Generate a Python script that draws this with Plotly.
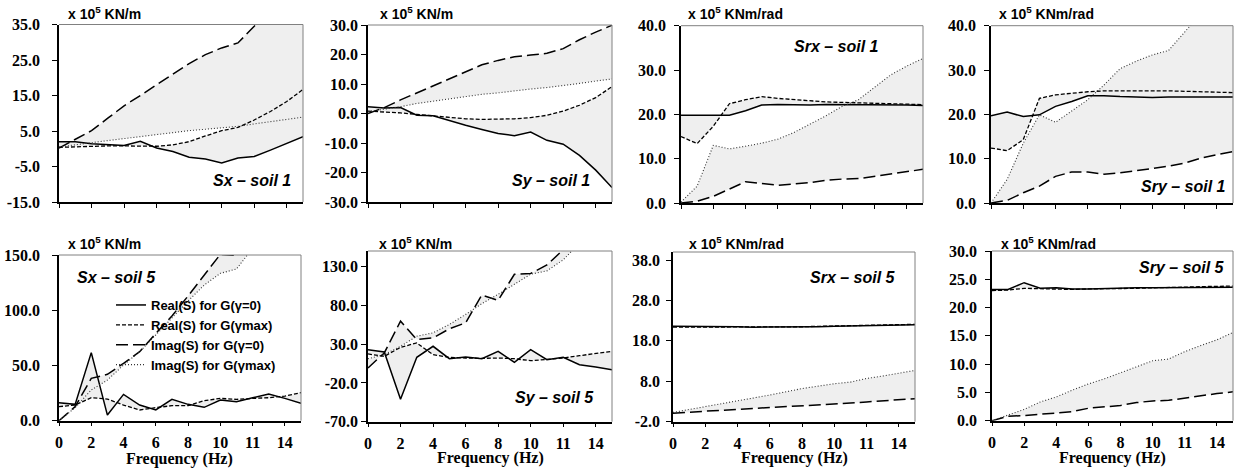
import plotly.graph_objects as go

# ---------------- data ----------------
freq = ["0", "1", "2", "3", "4", "5", "6", "7", "8", "9", "10", "10.5", "11", "12.5", "14", "15"]
tick_freqs = ["0", "2", "4", "6", "8", "10", "11", "14"]

series_names = ["Real(S) for G(\u03b3=0)", "Real(S) for G(\u03b3max)",
                "Imag(S) for G(\u03b3=0)", "Imag(S) for G(\u03b3max)"]

# Sx - soil 1
sx1_re0 = [2.0, 2.0, 1.4, 1.1, 0.9, 2.1, 0.2, -0.8, -2.4, -2.9, -4.0, -2.6, -2.2, -0.4, 1.6, 3.4]
sx1_remax = [0.4, 0.6, 0.7, 0.8, 0.8, 0.7, 0.7, 1.1, 2.0, 3.6, 5.1, 6.0, 8.1, 10.5, 13.3, 16.7]
sx1_im0 = [0.2, 2.6, 5.1, 8.6, 12.1, 15.0, 18.1, 21.0, 24.0, 26.5, 28.4, 29.8, 34.5, 40.0, 45.0, 50.0]
sx1_immax = [0.5, 1.2, 1.7, 2.3, 2.9, 3.5, 4.1, 4.6, 5.1, 5.5, 5.9, 6.3, 7.0, 7.7, 8.3, 8.9]
sx1_yticks = [-15, -5, 5, 15, 25, 35]

# Sy - soil 1
sy1_re0 = [2.3, 1.9, 2.0, -0.6, -0.8, -2.5, -4.0, -5.4, -6.8, -7.5, -6.3, -9.1, -10.4, -14.2, -19.2, -25.1]
sy1_remax = [0.8, 0.6, 0.2, -0.3, -0.8, -1.4, -1.8, -2.0, -2.0, -1.8, -1.4, -0.6, 0.8, 2.8, 5.4, 9.1]
sy1_im0 = [0.0, 2.0, 4.6, 7.0, 9.3, 11.7, 14.2, 16.5, 18.0, 19.2, 19.8, 20.4, 22.0, 25.0, 27.6, 29.9]
sy1_immax = [0.6, 1.4, 2.3, 3.4, 4.2, 4.9, 5.7, 6.5, 7.0, 7.7, 8.3, 8.8, 9.4, 10.2, 11.0, 11.7]
sy1_yticks = [-30, -20, -10, 0, 10, 20, 30]

# Srx - soil 1
srx1_re0 = [19.8, 19.8, 19.8, 19.8, 20.8, 22.1, 22.2, 22.1, 22.1, 22.2, 22.2, 22.2, 22.2, 22.1, 22.1, 22.0]
srx1_remax = [15.0, 13.4, 17.3, 22.4, 23.3, 24.0, 23.6, 23.3, 23.0, 22.8, 22.7, 22.6, 22.5, 22.4, 22.3, 22.2]
srx1_im0 = [0.0, 0.4, 1.5, 3.2, 4.8, 4.4, 4.0, 4.3, 4.6, 5.1, 5.4, 5.5, 6.0, 6.5, 7.1, 7.6]
srx1_immax = [0.2, 3.8, 13.0, 12.2, 12.8, 13.5, 14.4, 15.9, 17.8, 19.7, 21.8, 23.3, 26.1, 28.9, 30.9, 32.6]
srx1_yticks = [0, 10, 20, 30, 40]

# Sry - soil 1
sry1_re0 = [19.7, 20.5, 19.5, 19.9, 21.8, 22.9, 24.2, 24.2, 24.0, 23.9, 23.8, 23.9, 23.9, 23.9, 23.9, 23.9]
sry1_remax = [12.4, 11.8, 14.3, 23.6, 24.4, 24.8, 25.1, 25.3, 25.3, 25.4, 25.4, 25.3, 25.2, 25.1, 25.0, 24.9]
sry1_im0 = [0.0, 0.6, 2.3, 3.8, 6.0, 7.0, 7.0, 6.5, 6.8, 7.3, 7.9, 8.3, 9.0, 10.1, 10.9, 11.6]
sry1_immax = [0.0, 5.3, 13.5, 19.9, 18.2, 20.8, 23.3, 26.6, 30.3, 32.0, 33.4, 34.4, 38.5, 43.0, 47.0, 51.0]
sry1_yticks = [0, 10, 20, 30, 40]

# Sx - soil 5
sx5_re0 = [16.3, 14.8, 61.6, 5.1, 23.8, 14.2, 9.7, 19.3, 14.8, 12.1, 18.7, 17.2, 20.8, 24.1, 20.2, 15.7]
sx5_remax = [12.7, 14.2, 20.8, 19.6, 14.2, 9.7, 11.8, 13.6, 13.6, 18.1, 20.2, 19.3, 20.2, 20.8, 22.3, 25.4]
sx5_im0 = [0.0, 12.7, 38.3, 42.0, 51.9, 62.5, 79.1, 94.8, 112.9, 131.9, 150.6, 149.5, 168.0, 185.0, 200.0, 215.0]
sx5_immax = [0.0, 11.8, 27.8, 36.8, 50.4, 62.5, 77.6, 93.3, 108.4, 122.8, 133.4, 137.3, 157.5, 175.0, 190.0, 205.0]
sx5_yticks = [0, 50, 100, 150]

# Sy - soil 5
sy5_re0 = [22.9, 19.8, -41.0, 13.0, 27.2, 11.2, 13.4, 11.2, 20.7, 6.5, 22.9, 9.9, 12.9, 3.4, 0.4, -3.0]
sy5_remax = [17.3, 14.2, 25.9, 31.5, 16.4, 12.9, 12.1, 11.6, 12.1, 11.2, 8.6, 9.9, 12.1, 15.1, 17.7, 20.7]
sy5_im0 = [-0.7, 18.6, 59.6, 35.8, 38.0, 49.7, 57.4, 93.3, 86.4, 120.0, 121.0, 132.0, 151.6, 170.0, 185.0, 200.0]
sy5_immax = [11.2, 16.4, 27.2, 40.2, 44.5, 55.3, 68.2, 82.1, 94.1, 107.1, 120.1, 124.4, 138.6, 160.0, 175.0, 190.0]
sy5_yticks = [-70, -20, 30, 80, 130]

# Srx - soil 5
srx5_re0 = [21.6, 21.6, 21.5, 21.5, 21.5, 21.4, 21.4, 21.4, 21.5, 21.5, 21.6, 21.7, 21.8, 21.8, 21.9, 22.0]
srx5_remax = [21.4, 21.4, 21.4, 21.4, 21.4, 21.4, 21.4, 21.5, 21.5, 21.6, 21.7, 21.7, 21.8, 21.9, 22.0, 22.1]
srx5_im0 = [0.1, 0.4, 0.6, 0.8, 1.1, 1.3, 1.5, 1.7, 1.9, 2.1, 2.4, 2.6, 2.9, 3.2, 3.5, 3.7]
srx5_immax = [0.3, 1.0, 1.7, 2.5, 3.2, 3.9, 4.6, 5.4, 6.2, 6.8, 7.4, 7.8, 8.7, 9.3, 10.0, 10.7]
srx5_yticks = [-2, 8, 18, 28, 38]

# Sry - soil 5
sry5_re0 = [23.2, 23.2, 24.4, 23.4, 23.5, 23.3, 23.3, 23.4, 23.5, 23.5, 23.5, 23.5, 23.6, 23.6, 23.6, 23.6]
sry5_remax = [23.0, 23.1, 23.4, 23.3, 23.3, 23.2, 23.3, 23.3, 23.4, 23.4, 23.5, 23.5, 23.6, 23.7, 23.7, 23.8]
sry5_im0 = [0.0, 0.8, 0.9, 1.1, 1.4, 1.6, 2.2, 2.5, 2.7, 3.2, 3.5, 3.6, 4.0, 4.5, 4.8, 5.1]
sry5_immax = [0.0, 1.0, 2.0, 3.3, 4.2, 5.4, 6.5, 7.4, 8.5, 9.5, 10.6, 10.9, 12.2, 13.3, 14.3, 15.6]
sry5_yticks = [0, 5, 10, 15, 20, 25, 30]

unit_kn = "x 10<sup>5</sup> KN/m"
unit_knm = "x 10<sup>5</sup> KNm/rad"

# ---------------- layout spec (pixels) ----------------
W, H = 1234, 469
SANS = "Liberation Sans"
SERIF = "Liberation Serif"
FILL = "#efefef"

panels = [
    dict(d=(sx1_re0, sx1_remax, sx1_im0, sx1_immax), box=(59, 303, 24.5, 202), yr=(-15, 35), yt=sx1_yticks,
         unit=unit_kn, upos=(66, 13), label="Sx \u2013 soil 1", lpos=(293, 180, "right"), so=9, bottom=False),
    dict(d=(sy1_re0, sy1_remax, sy1_im0, sy1_immax), box=(368, 612, 25, 202), yr=(-30, 30), yt=sy1_yticks,
         unit=unit_kn, upos=(378, 13), label="Sy \u2013 soil 1", lpos=(592, 180, "right"), so=0, bottom=False),
    dict(d=(srx1_re0, srx1_remax, srx1_im0, srx1_immax), box=(681, 923, 25.7, 203), yr=(0, 40), yt=srx1_yticks,
         unit=unit_knm, upos=(686, 13), label="Srx \u2013 soil 1", lpos=(792, 47, "left"), so=5, bottom=False),
    dict(d=(sry1_re0, sry1_remax, sry1_im0, sry1_immax), box=(991, 1233, 25.7, 203), yr=(0, 40), yt=sry1_yticks,
         unit=unit_knm, upos=(997, 13), label="Sry \u2013 soil 1", lpos=(1228, 187, "right"), so=5, bottom=False),
    dict(d=(sx5_re0, sx5_remax, sx5_im0, sx5_immax), box=(59, 301, 255, 420.7), yr=(0, 150), yt=sx5_yticks,
         unit=unit_kn, upos=(66, 243), label="Sx \u2013 soil 5", lpos=(75, 277, "left"), so=9, bottom=True, ft=459),
    dict(d=(sy5_re0, sy5_remax, sy5_im0, sy5_immax), box=(368, 612, 251, 421.7), yr=(-70, 150), yt=sy5_yticks,
         unit=unit_kn, upos=(377, 243), label="Sy \u2013 soil 5", lpos=(513, 397, "left"), so=0, bottom=True, ft=458),
    dict(d=(srx5_re0, srx5_remax, srx5_im0, srx5_immax), box=(673, 915, 252, 421.7), yr=(-2, 40), yt=srx5_yticks,
         unit=unit_knm, upos=(687, 243), label="Srx \u2013 soil 5", lpos=(808, 277, "left"), so=3, bottom=True, ft=458),
    dict(d=(sry5_re0, sry5_remax, sry5_im0, sry5_immax), box=(992, 1233, 251, 420.7), yr=(0, 30), yt=sry5_yticks,
         unit=unit_knm, upos=(999, 243), label="Sry \u2013 soil 5", lpos=(1137, 267, "left"), so=5, bottom=True, ft=458),
]

styles = [
    dict(color="black", width=1.5, dash="solid"),
    dict(color="black", width=1.3, dash="4px,2px"),
    dict(color="black", width=1.5, dash="12px,5px"),
    dict(color="#333333", width=1.1, dash="1px,2px"),
]

fig = go.Figure()
layout = dict(width=W, height=H, margin=dict(l=0, r=0, t=0, b=0, autoexpand=False),
              paper_bgcolor="white", plot_bgcolor="white", showlegend=True)
annotations = []
shapes = []

for i, p in enumerate(panels):
    n = i + 1
    xa = "x" if n == 1 else f"x{n}"
    ya = "y" if n == 1 else f"y{n}"
    xk = "xaxis" if n == 1 else f"xaxis{n}"
    yk = "yaxis" if n == 1 else f"yaxis{n}"
    x0, x1, t, b = p["box"]

    # shaded bands between the G(gamma=0) and G(gamma max) curves
    for a, c in ((0, 1), (2, 3)):
        fig.add_trace(go.Scatter(x=freq, y=p["d"][a], mode="lines", line=dict(width=0),
                                 showlegend=False, hoverinfo="skip", xaxis=xa, yaxis=ya))
        fig.add_trace(go.Scatter(x=freq, y=p["d"][c], mode="lines", line=dict(width=0),
                                 fill="tonexty", fillcolor=FILL,
                                 showlegend=False, hoverinfo="skip", xaxis=xa, yaxis=ya))
    # curves
    for k in range(4):
        fig.add_trace(go.Scatter(x=freq, y=p["d"][k], mode="lines", line=styles[k],
                                 name=series_names[k], showlegend=(n == 5),
                                 xaxis=xa, yaxis=ya))

    layout[xk] = dict(domain=[x0 / W, x1 / W], anchor=ya, type="category",
                      categoryorder="array", categoryarray=freq, range=[0, len(freq) - 1],
                      tickmode="array", tickvals=tick_freqs, ticktext=tick_freqs,
                      showticklabels=p["bottom"], ticks="outside", ticklen=4, tickwidth=1,
                      tickcolor="black", showline=True, linecolor="black", linewidth=1.5,
                      showgrid=False, zeroline=False, ticklabelstandoff=2, automargin=False,
                      tickfont=dict(family=SERIF, size=16, color="black", weight="bold"))
    layout[yk] = dict(domain=[1 - b / H, 1 - t / H], anchor=xa, range=list(p["yr"]),
                      tickmode="array", tickvals=p["yt"], ticktext=[f"{v:.1f}" for v in p["yt"]],
                      ticks="outside", ticklen=5, tickwidth=1, tickcolor="black",
                      showline=True, linecolor="black", linewidth=1.5, automargin=False,
                      showgrid=False, zeroline=False, ticklabelstandoff=p["so"],
                      tickfont=dict(family=SERIF, size=16, color="black", weight="bold"))

    # gray top and right frame
    shapes.append(dict(type="line", xref=f"{xa} domain", yref=f"{ya} domain", x0=0, x1=1, y0=1, y1=1,
                       line=dict(color="#808080", width=1), layer="above"))
    shapes.append(dict(type="line", xref=f"{xa} domain", yref=f"{ya} domain", x0=1, x1=1, y0=0, y1=1,
                       line=dict(color="#808080", width=1), layer="above"))

    # unit label
    ux, uy = p["upos"]
    annotations.append(dict(text=p["unit"], xref="paper", yref="paper", x=ux / W, y=1 - uy / H,
                            xanchor="left", yanchor="middle", showarrow=False,
                            font=dict(family=SANS, size=14, color="black", weight="bold")))
    # panel label
    lx, ly, la = p["lpos"]
    annotations.append(dict(text=p["label"], xref="paper", yref="paper", x=lx / W, y=1 - ly / H,
                            xanchor=la, yanchor="middle", showarrow=False,
                            font=dict(family=SANS, size=16, color="black", weight="bold", style="italic")))
    # x-axis title
    if p["bottom"]:
        annotations.append(dict(text="Frequency (Hz)", xref="paper", yref="paper",
                                x=(x0 + x1) / 2 / W, y=1 - p["ft"] / H,
                                xanchor="center", yanchor="middle", showarrow=False,
                                font=dict(family=SERIF, size=16, color="black", weight="bold")))

layout["annotations"] = annotations
layout["shapes"] = shapes
layout["legend"] = dict(x=111 / W, y=1 - 290 / H, xanchor="left", yanchor="top",
                        traceorder="normal",
                        bgcolor="rgba(0,0,0,0)", borderwidth=0, tracegroupgap=0,
                        font=dict(family=SANS, size=13, color="black", weight="bold"))
fig.update_layout(**layout)
fig.write_html("out.html", config={"displayModeBar": False},
               post_script="document.body.style.margin='0';document.body.style.overflow='hidden';")
